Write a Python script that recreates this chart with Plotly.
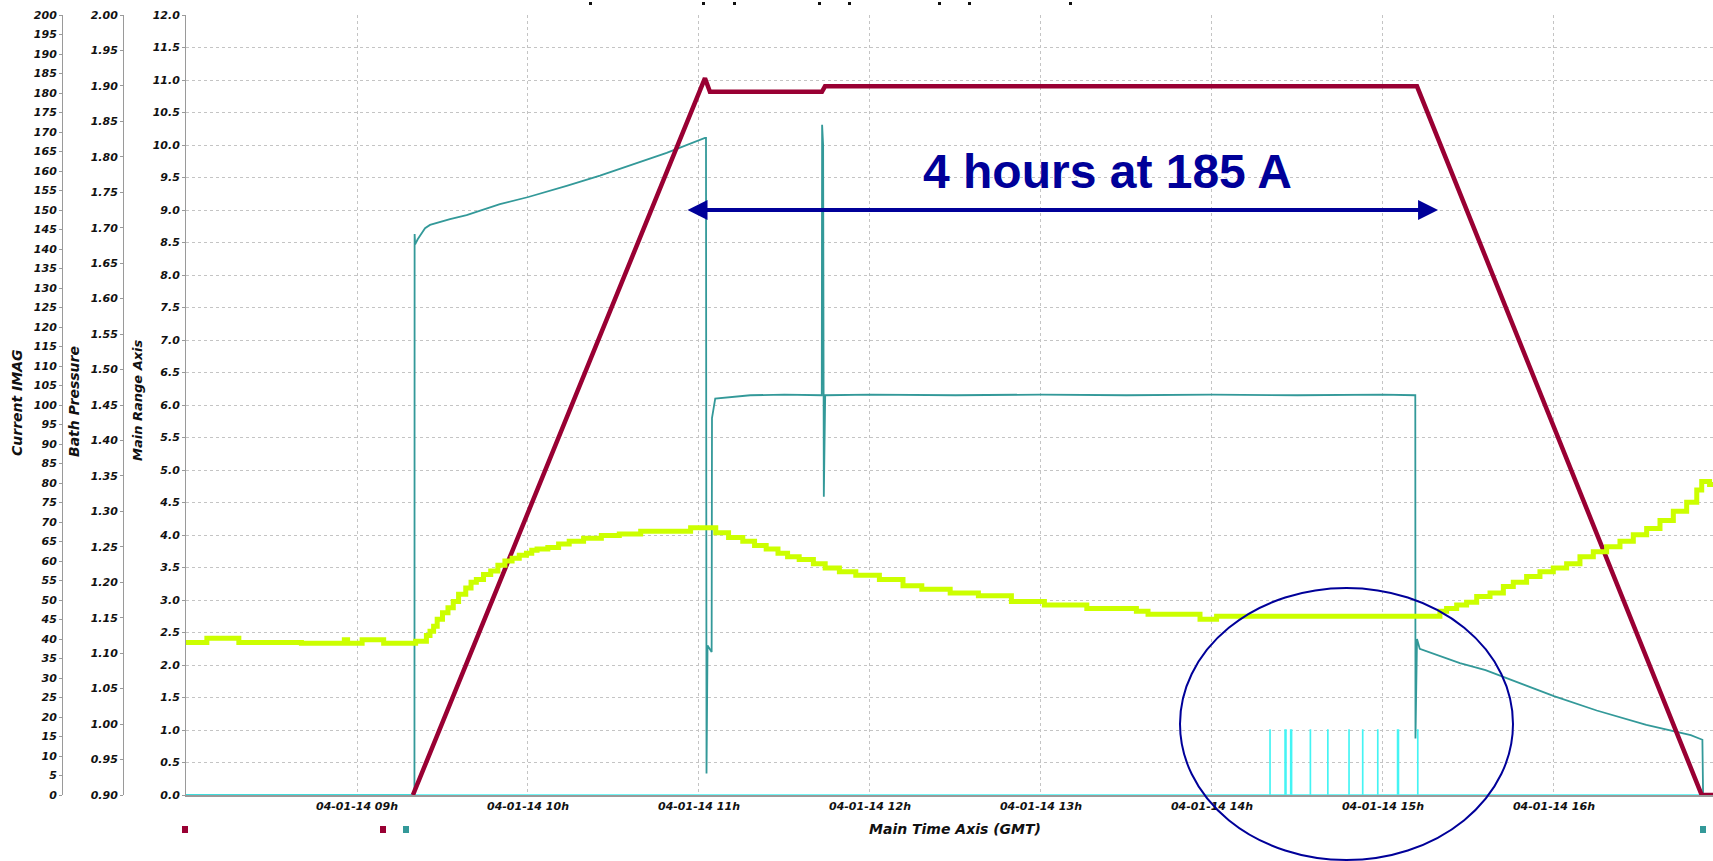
import pandas as pd
import plotly.graph_objects as go

# ---------------- data (hours after 2014-01-04 00:00) ----------------
BASE = pd.Timestamp("2014-01-04")

x_range_hours = [8.0, 16.93]
tick_hours = [9, 10, 11, 12, 13, 14, 15, 16]

# Current IMAG (A)
current_t = [9.327, 11.035, 11.064, 11.719, 11.737, 15.199, 16.864, 16.93]
current_v = [0.0, 183.8, 180.3, 180.3, 181.7, 181.7, 0.0, 0.0]

# Bath Pressure (stepped)
bath_t = [8.000, 8.122, 8.309, 8.675, 8.926, 8.945, 9.030, 9.156, 9.343, 9.406,
          9.427, 9.448, 9.469, 9.500, 9.532, 9.563, 9.594, 9.636, 9.667, 9.698,
          9.740, 9.782, 9.824, 9.865, 9.907, 9.949, 9.991, 10.022, 10.053, 10.116,
          10.179, 10.241, 10.325, 10.429, 10.534, 10.659, 10.951, 11.098, 11.173, 11.256,
          11.325, 11.393, 11.462, 11.518, 11.586, 11.669, 11.738, 11.821, 11.917, 12.055,
          12.193, 12.303, 12.469, 12.634, 12.827, 13.020, 13.268, 13.558, 13.626, 13.930,
          14.027, 15.333, 15.372, 15.431, 15.489, 15.548, 15.626, 15.704, 15.762, 15.840,
          15.918, 15.996, 16.074, 16.152, 16.230, 16.308, 16.386, 16.464, 16.542, 16.620,
          16.698, 16.776, 16.835, 16.864, 16.910, 16.930]
bath_v = [1.115, 1.121, 1.115, 1.114, 1.119, 1.114, 1.119, 1.114, 1.117, 1.125,
          1.131, 1.138, 1.148, 1.157, 1.164, 1.173, 1.183, 1.192, 1.200, 1.204,
          1.211, 1.216, 1.224, 1.230, 1.234, 1.238, 1.241, 1.245, 1.247, 1.249,
          1.254, 1.258, 1.262, 1.266, 1.268, 1.272, 1.277, 1.270, 1.263, 1.258,
          1.252, 1.247, 1.241, 1.236, 1.232, 1.226, 1.220, 1.215, 1.210, 1.204,
          1.195, 1.190, 1.185, 1.181, 1.173, 1.168, 1.163, 1.159, 1.155, 1.148,
          1.152, 1.159, 1.163, 1.168, 1.172, 1.180, 1.185, 1.194, 1.200, 1.208,
          1.215, 1.220, 1.226, 1.236, 1.243, 1.250, 1.258, 1.267, 1.276, 1.287,
          1.300, 1.313, 1.330, 1.342, 1.338, 1.338]

# Main range signal (teal)
main_t = [8.000, 9.336, 9.337, 9.340, 9.355, 9.398, 9.427, 9.544, 9.641, 9.836,
          10.002, 10.226, 10.421, 10.616, 10.811, 11.035, 11.041, 11.044, 11.050, 11.074,
          11.076, 11.095, 11.300, 11.500, 11.718, 11.720, 11.726, 11.730, 11.738, 12.000,
          12.500, 13.000, 13.500, 14.000, 14.500, 15.000, 15.189, 15.190, 15.199, 15.215,
          15.300, 15.450, 15.600, 15.800, 16.000, 16.250, 16.540, 16.800, 16.868, 16.872,
          16.930]
main_v = [0.00, 0.00, 8.63, 8.47, 8.55, 8.72, 8.77, 8.86, 8.92, 9.09,
          9.20, 9.37, 9.53, 9.71, 9.88, 10.11, 10.11, 0.33, 2.30, 2.20,
          5.80, 6.10, 6.15, 6.16, 6.15, 10.31, 10.00, 4.59, 6.15, 6.16,
          6.15, 6.16, 6.15, 6.16, 6.15, 6.16, 6.15, 0.87, 2.40, 2.25,
          2.17, 2.03, 1.92, 1.72, 1.52, 1.30, 1.08, 0.92, 0.85, 0.00,
          0.00]

# Cyan flag pulses (value 1.0 between on and off)
flag_on = [14.339, 14.427, 14.460, 14.575, 14.677, 14.801, 14.881, 14.969, 15.085, 15.203]
flag_off = [14.340, 14.433, 14.466, 14.576, 14.678, 14.802, 14.882, 14.970, 15.091, 15.204]
flag_level = 1.0

annotation_text = "4 hours at 185 A"
arrow_hours = [10.924, 15.322]
arrow_level = 9.0
text_pos = (13.389, 9.6)


def T(hs):
    return [BASE + pd.Timedelta(hours=h) for h in hs]


# build cyan flag path from the pulse table
flag_t = [x_range_hours[0]]
flag_v = [0.0]
for on, off in zip(flag_on, flag_off):
    flag_t += [on, on, off, off]
    flag_v += [0.0, flag_level, flag_level, 0.0]
flag_t.append(x_range_hours[1])
flag_v.append(0.0)

# ---------------- geometry ----------------
W, H = 1713, 861
PL = 186            # plot left pixel
TOP, BOT = 15, 795  # plot top / bottom pixels


def px(x):
    return x / W


def py(y):
    return (BOT - y) / (BOT - TOP)


CRIMSON = "#990033"
YELLOW = "#CCFF00"
TEAL = "#339999"
CYAN = "#44F4F4"
NAVY = "#000099"
AXC = "#9a9a9a"
GRID = "#c4c4c4"

tickfont = dict(family="DejaVu Sans", size=11, color="#111111", weight="bold", style="italic")

fig = go.Figure()
fig.add_trace(go.Scatter(x=T(bath_t), y=bath_v, yaxis="y3", mode="lines",
                         line=dict(color=YELLOW, width=5, shape="hv"), showlegend=False))
fig.add_trace(go.Scatter(x=T(main_t), y=main_v, yaxis="y", mode="lines",
                         line=dict(color=TEAL, width=1.8), showlegend=False))
fig.add_trace(go.Scatter(x=T(flag_t), y=flag_v, yaxis="y", mode="lines",
                         line=dict(color=CYAN, width=1.5), showlegend=False))
fig.add_trace(go.Scatter(x=T(current_t), y=current_v, yaxis="y2", mode="lines",
                         line=dict(color=CRIMSON, width=4.5), showlegend=False))

fig.update_layout(
    width=W, height=H,
    margin=dict(l=0, r=0, t=TOP, b=H - BOT, pad=0),
    paper_bgcolor="white", plot_bgcolor="white",
    showlegend=False,
    xaxis=dict(
        domain=[px(PL), 1.0], type="date",
        range=T(x_range_hours),
        tickvals=T(tick_hours), tickformat="%d-%m-%y %Hh",
        tickfont=dict(family="DejaVu Sans", size=11, color="#111111", weight="bold", style="italic"),
        showgrid=True, gridcolor=GRID, griddash="3px,3px", gridwidth=1,
        showline=True, linecolor=AXC, linewidth=2, ticks="", zeroline=False,
    ),
    yaxis=dict(
        range=[0, 12], dtick=0.5, tick0=0, tickformat=".1f", anchor="x",
        showgrid=True, gridcolor=GRID, griddash="dot", gridwidth=1,
        showline=True, linecolor=AXC, linewidth=1, ticks="outside", ticklen=3,
        tickcolor=AXC, tickfont=tickfont, zeroline=False,
    ),
    yaxis2=dict(
        range=[0, 200], dtick=5, tick0=0, overlaying="y", anchor="free",
        position=px(62), side="left", showgrid=False, zeroline=False,
        showline=True, linecolor=AXC, linewidth=1, ticks="outside", ticklen=3,
        tickcolor=AXC, tickfont=tickfont,
    ),
    yaxis3=dict(
        range=[0.9, 2.0], dtick=0.05, tick0=0.9, tickformat=".2f", overlaying="y",
        anchor="free", position=px(123), side="left", showgrid=False, zeroline=False,
        showline=True, linecolor=AXC, linewidth=1, ticks="outside", ticklen=3,
        tickcolor=AXC, tickfont=tickfont,
    ),
)

for label, xp, yc, fs in [("Current IMAG", 17, 403, 14), ("Bath Pressure", 74, 402, 14),
                          ("Main Range Axis", 137, 400, 13)]:
    fig.add_annotation(text=label, xref="paper", yref="paper", x=px(xp), y=py(yc),
                       textangle=-90, showarrow=False, xanchor="center", yanchor="middle",
                       font=dict(family="DejaVu Sans", size=fs, color="#111111",
                                 weight="bold", style="italic"))
fig.add_annotation(text="Main Time Axis (GMT)", xref="paper", yref="paper",
                   x=px(955), y=py(829), showarrow=False, xanchor="center", yanchor="middle",
                   font=dict(family="DejaVu Sans", size=14, color="#111111",
                             weight="bold", style="italic"))

# double-headed arrow + label
fig.add_annotation(x=T([arrow_hours[1]])[0], y=arrow_level, ax=T([arrow_hours[0]])[0], ay=arrow_level,
                   xref="x", yref="y", axref="x", ayref="y", text="", showarrow=True,
                   arrowside="end+start", arrowhead=2, arrowsize=1, arrowwidth=4, arrowcolor=NAVY,
                   standoff=0, startstandoff=0)
fig.add_annotation(x=T([text_pos[0]])[0], y=text_pos[1], xref="x", yref="y", text=annotation_text,
                   showarrow=False, xanchor="center", yanchor="middle",
                   font=dict(family="Liberation Sans", size=48, color=NAVY, weight="bold"))

# ellipse highlight
fig.add_shape(type="circle", xref="paper", yref="paper", layer="above",
              x0=px(1180), x1=px(1513), y0=py(860), y1=py(588),
              line=dict(color=NAVY, width=2))

# small legend swatches below the axis and marks above the plot
for x0, col in [(182, CRIMSON), (380, CRIMSON), (403, TEAL), (1700, TEAL)]:
    fig.add_shape(type="rect", xref="paper", yref="paper", x0=px(x0), x1=px(x0 + 6),
                  y0=py(833), y1=py(826), fillcolor=col, line=dict(width=0))
for x0 in [589, 702, 733, 818, 848, 938, 968, 1069]:
    fig.add_shape(type="rect", xref="paper", yref="paper", x0=px(x0), x1=px(x0 + 3),
                  y0=py(5), y1=py(2), fillcolor="#111111", line=dict(width=0))

fig.write_html("out.html")
